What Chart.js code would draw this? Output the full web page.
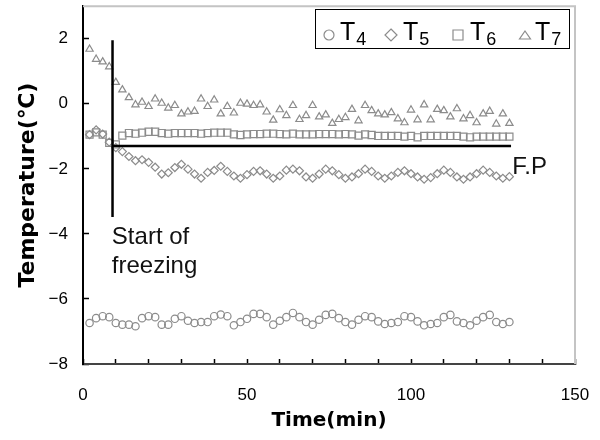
<!DOCTYPE html>
<html>
<head>
<meta charset="utf-8">
<script src="https://cdn.jsdelivr.net/npm/chart.js@4.4.1/dist/chart.umd.min.js"></script>
<style>
  html, body { margin: 0; padding: 0; background: #fff; }
</style>
</head>
<body>
<canvas id="chart-temperatura" width="600" height="440"></canvas>
<script>
// ─── DATOS ───────────────────────────────────────────────────────────────────
const tiempos = [2, 4, 6, 8, 10, 12, 14, 16, 18, 20, 22, 24, 26, 28, 30, 32, 34, 36, 38, 40,
  42, 44, 46, 48, 50, 52, 54, 56, 58, 60, 62, 64, 66, 68, 70, 72, 74, 76, 78, 80,
  82, 84, 86, 88, 90, 92, 94, 96, 98, 100, 102, 104, 106, 108, 110, 112, 114, 116, 118, 120,
  122, 124, 126, 128, 130];

const serieT4 = [-6.74, -6.59, -6.53, -6.56, -6.74, -6.79, -6.79, -6.84, -6.59, -6.53,
  -6.56, -6.79, -6.79, -6.61, -6.53, -6.67, -6.74, -6.71, -6.71, -6.53,
  -6.48, -6.53, -6.81, -6.71, -6.61, -6.46, -6.46, -6.56, -6.79, -6.67,
  -6.56, -6.43, -6.56, -6.71, -6.79, -6.64, -6.49, -6.46, -6.59, -6.71,
  -6.79, -6.64, -6.53, -6.56, -6.69, -6.77, -6.74, -6.71, -6.53, -6.56,
  -6.69, -6.81, -6.77, -6.74, -6.56, -6.49, -6.69, -6.74, -6.81, -6.67,
  -6.56, -6.49, -6.71, -6.77, -6.71];

const serieT5 = [-0.95, -0.80, -0.93, -1.18, -1.35, -1.47, -1.62, -1.75, -1.72, -1.80,
  -1.95, -2.16, -2.12, -1.96, -1.86, -2.01, -2.16, -2.29, -2.11, -2.05,
  -1.92, -2.08, -2.22, -2.29, -2.18, -2.08, -2.06, -2.16, -2.29, -2.22,
  -2.04, -2.01, -2.06, -2.25, -2.29, -2.16, -2.01, -2.06, -2.18, -2.29,
  -2.25, -2.15, -2.01, -2.08, -2.22, -2.29, -2.22, -2.11, -2.06, -2.15,
  -2.25, -2.32, -2.27, -2.15, -2.04, -2.11, -2.25, -2.32, -2.25, -2.15,
  -2.04, -2.11, -2.22, -2.29, -2.24];

const serieT6 = [-0.95, -0.88, -0.95, -1.20, -1.25, -0.98, -0.90, -0.92, -0.89, -0.86,
  -0.86, -0.90, -0.92, -0.90, -0.90, -0.90, -0.90, -0.92, -0.90, -0.89,
  -0.89, -0.89, -0.94, -0.96, -0.94, -0.93, -0.93, -0.92, -0.92, -0.93,
  -0.94, -0.92, -0.94, -0.94, -0.94, -0.93, -0.93, -0.93, -0.94, -0.93,
  -0.94, -0.98, -0.94, -0.96, -0.99, -0.99, -0.99, -0.99, -1.01, -0.99,
  -1.03, -0.99, -0.99, -0.99, -0.99, -0.99, -0.99, -1.01, -1.03, -1.01,
  -1.01, -1.01, -1.01, -1.01, -1.01];

const serieT7 = [1.68, 1.37, 1.29, 1.14, 0.66, 0.43, 0.19, -0.03, 0.05, -0.08,
  0.15, 0.02, -0.13, -0.05, -0.31, -0.25, -0.23, 0.15, -0.08, 0.12,
  -0.31, -0.08, -0.28, 0.02, -0.01, -0.05, -0.03, -0.25, -0.50, -0.18,
  -0.36, -0.05, -0.48, -0.36, -0.05, -0.40, -0.34, -0.60, -0.48, -0.42,
  -0.17, -0.52, -0.05, -0.21, -0.31, -0.34, -0.27, -0.46, -0.58, -0.19,
  -0.49, -0.03, -0.49, -0.17, -0.21, -0.40, -0.15, -0.46, -0.36, -0.58,
  -0.31, -0.23, -0.62, -0.31, -0.60];

// líneas de referencia: inicio de congelación y punto de fusión (F.P)
const lineaCongelX = [9, 9];
const lineaCongelY = [1.95, -3.48];
const lineaFPX = [9, 130.5];
const lineaFPY = [-1.3, -1.3];

const nombresSerie = ['T', 'T', 'T', 'T'];
const subindices = ['4', '5', '6', '7'];
const ticksX = [0, 50, 100, 150];

const GRIS = '#8c8c8c';
const FUENTE = '"Liberation Sans", Arial, sans-serif';
const FUENTE_TITULO = '"DejaVu Sans", "Noto Sans CJK KR", sans-serif';

const puntos = (xs, ys) => xs.map((x, i) => ({ x, y: ys[i] }));
const menos = v => v < 0 ? '\u2212' + Math.abs(v) : String(v);

// sin relleno extra por las etiquetas: el área del gráfico queda fija
const sinRelleno = s => { s.paddingTop = 0; s.paddingBottom = 0; s.paddingLeft = 0; s.paddingRight = 0; };

// ─── PLUGINS: marco gris, textos y leyenda con subíndices ────────────────────
const marcoGris = {
  id: 'marcoGris',
  beforeDatasetsDraw(chart) {
    const { ctx, chartArea: a } = chart;
    ctx.save();
    ctx.strokeStyle = '#c4c4c4';
    ctx.lineWidth = 2;
    ctx.beginPath();
    ctx.moveTo(a.left, a.top);
    ctx.lineTo(a.right, a.top);
    ctx.lineTo(a.right, a.bottom);
    ctx.stroke();
    ctx.restore();
  }
};

function marcador(ctx, estilo, cx, cy, r) {
  ctx.beginPath();
  if (estilo === 'circle') {
    ctx.arc(cx, cy, r, 0, Math.PI * 2);
  } else if (estilo === 'rectRot') {
    ctx.moveTo(cx, cy - r); ctx.lineTo(cx + r, cy); ctx.lineTo(cx, cy + r); ctx.lineTo(cx - r, cy);
    ctx.closePath();
  } else if (estilo === 'rect') {
    ctx.rect(cx - r, cy - r, 2 * r, 2 * r);
  } else {
    ctx.moveTo(cx, cy - r * 0.8); ctx.lineTo(cx + r * 1.1, cy + r * 0.8); ctx.lineTo(cx - r * 1.1, cy + r * 0.8);
    ctx.closePath();
  }
  ctx.stroke();
}

const anotaciones = {
  id: 'anotaciones',
  afterDraw(chart) {
    const { ctx, scales: { x, y } } = chart;
    ctx.save();
    ctx.fillStyle = '#111';
    ctx.textBaseline = 'alphabetic';
    ctx.textAlign = 'left';
    ctx.font = '24px ' + FUENTE;
    ctx.fillText('Start of', x.getPixelForValue(8.8), y.getPixelForValue(-4.3));
    ctx.fillText('freezing', x.getPixelForValue(8.8), y.getPixelForValue(-5.2));
    ctx.fillText('F.P', x.getPixelForValue(130.9), y.getPixelForValue(-2.16));

    // leyenda
    ctx.fillStyle = '#fff';
    ctx.fillRect(315, 9, 254, 39);
    ctx.strokeStyle = '#000';
    ctx.lineWidth = 1;
    ctx.strokeRect(315.5, 9.5, 254, 39);
    const estilos = ['circle', 'rectRot', 'rect', 'triangle'];
    const radios = [5, 6, 5, 5];
    const posMarca = [329, 391, 458, 525];
    const posTexto = [340, 403, 470, 535];
    ctx.strokeStyle = GRIS;
    ctx.lineWidth = 1.2;
    estilos.forEach((e, i) => marcador(ctx, e, posMarca[i], 35, radios[i]));
    ctx.fillStyle = '#000';
    nombresSerie.forEach((n, i) => {
      ctx.font = '25px ' + FUENTE;
      ctx.fillText(n, posTexto[i], 40);
      const w = ctx.measureText(n).width;
      ctx.font = '18px ' + FUENTE;
      ctx.fillText(subindices[i], posTexto[i] + w + 1, 45);
    });
    ctx.restore();
  }
};

// ─── GRÁFICO ─────────────────────────────────────────────────────────────────
const serie = (data, estilo, radio) => ({
  data, showLine: false,
  pointStyle: estilo, pointRadius: radio, pointHoverRadius: radio,
  pointBorderColor: GRIS, pointBackgroundColor: 'rgba(0,0,0,0)', pointBorderWidth: 1.2
});
const linea = data => ({ data, showLine: true, borderColor: '#000', borderWidth: 2.5, pointRadius: 0 });

new Chart(document.getElementById('chart-temperatura'), {
  type: 'scatter',
  data: {
    datasets: [
      linea(puntos(lineaCongelX, lineaCongelY)),
      linea(puntos(lineaFPX, lineaFPY)),
      serie(puntos(tiempos, serieT4), 'circle', 3.7),
      serie(puntos(tiempos, serieT5), 'rectRot', 4),
      serie(puntos(tiempos, serieT6), 'rect', 5),
      serie(puntos(tiempos, serieT7), 'triangle', 4.2)
    ]
  },
  options: {
    responsive: false,
    animation: false,
    layout: { padding: { top: 6, right: 25, left: 0, bottom: 0 } },
    plugins: { legend: { display: false }, tooltip: { enabled: false } },
    scales: {
      x: {
        type: 'linear', min: 0, max: 150,
        afterFit: s => { s.height = 76; sinRelleno(s); },
        ticks: {
          stepSize: 10, autoSkip: false, maxRotation: 0, padding: 26, color: '#000',
          font: { family: FUENTE, size: 17 },
          callback: v => ticksX.includes(v) ? String(v) : ''
        },
        grid: { drawOnChartArea: false, tickLength: -5, tickColor: '#000', tickWidth: 1.5 },
        border: { color: '#444', width: 2 },
        title: {
          display: true, text: 'Time(min)', color: '#000',
          font: { family: FUENTE_TITULO, size: 20, weight: 'bold' },
          padding: { top: 0, bottom: 7 }
        }
      },
      y: {
        min: -8, max: 3,
        afterFit: s => { s.width = 83; sinRelleno(s); },
        ticks: {
          stepSize: 2, includeBounds: false, padding: 21, color: '#000',
          font: { family: FUENTE, size: 17 },
          callback: v => menos(v)
        },
        grid: { drawOnChartArea: false, tickLength: -6, tickColor: '#000', tickWidth: 1.5 },
        border: { color: '#000', width: 2 },
        title: {
          display: true, text: 'Temperature(℃)', color: '#000',
          font: { family: FUENTE_TITULO, size: 22, weight: 'bold' },
          padding: { top: 15, bottom: 0 }
        }
      }
    }
  },
  plugins: [marcoGris, anotaciones]
});
</script>
</body>
</html>
